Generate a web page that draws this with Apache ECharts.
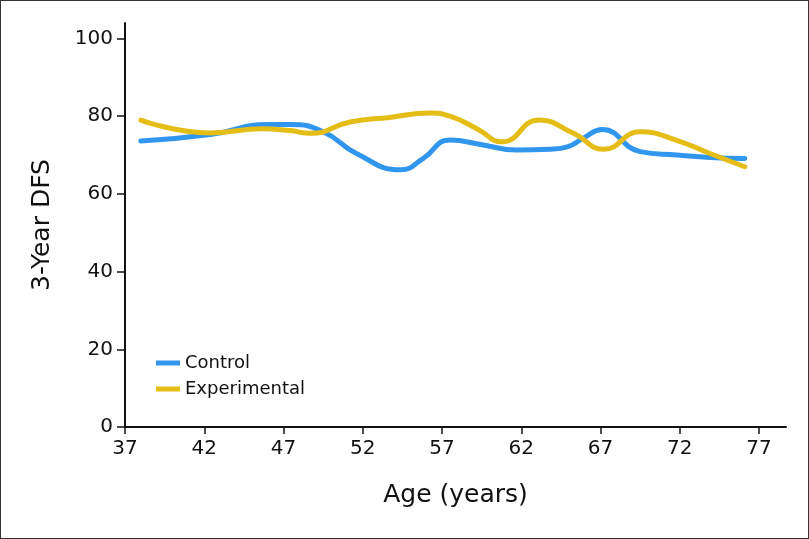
<!DOCTYPE html>
<html>
<head>
<meta charset="utf-8">
<script src="https://cdn.jsdelivr.net/npm/echarts@6/dist/echarts.min.js"></script>
<style>
  html, body { margin: 0; padding: 0; background: #fff; }
  #chart { width: 809px; height: 539px; box-sizing: border-box; border: 1px solid #333; }
</style>
</head>
<body>
<div id="chart"></div>
<script>
// data
var xTicks = [37, 42, 47, 52, 57, 62, 67, 72, 77];
var controlAge = [38, 42.4, 46.1, 47.4, 49.5, 51.6, 54.4, 55.8, 57.5, 59.6, 61.7, 63.8, 64.9, 65.9, 67.1, 69.5, 71.8, 73.9, 76.1];
var controlDFS = [73.6, 75.3, 77.9, 77.9, 76, 70.4, 66.2, 69.1, 73.9, 72.6, 71.3, 71.5, 72.1, 74.3, 76.6, 70.9, 70, 69.4, 69.1];
var expAge = [38, 42.4, 45.7, 47.4, 48.7, 51.2, 53.7, 56.2, 57.5, 59.2, 60.8, 63.1, 65.3, 67.2, 69.5, 71.8, 73.9, 76.1];
var expDFS = [79, 75.7, 76.8, 76.3, 75.6, 78.5, 79.7, 80.8, 80, 76.8, 73.4, 79, 75.6, 71.5, 76, 73.8, 70.4, 67];

function pairs(xs, ys) {
    return xs.map(function (x, i) { return [x, ys[i]]; });
}

var chart = echarts.init(document.getElementById('chart'));
var font = '"DejaVu Sans", sans-serif';

chart.setOption({
    animation: false,
    textStyle: { fontFamily: font },
    grid: { left: 124, right: 22, top: 22, bottom: 111, containLabel: false },
    legend: {
        orient: 'vertical',
        left: 150,
        top: 348,
        itemWidth: 24,
        itemHeight: 5,
        itemGap: 8,
        icon: 'rect',
        textStyle: { fontSize: 18, color: '#111', fontFamily: font },
        data: ['Control', 'Experimental']
    },
    xAxis: {
        type: 'value',
        min: 37,
        max: 78.7,
        name: 'Age (years)',
        nameLocation: 'middle',
        nameGap: 56,
        nameTextStyle: { fontSize: 25, color: '#111' },
        axisLine: { lineStyle: { color: '#111', width: 2 } },
        axisTick: { show: true, length: 7, lineStyle: { color: '#111', width: 1.5 }, customValues: xTicks },
        axisLabel: { fontSize: 20, color: '#111', margin: 12, customValues: xTicks },
        splitLine: { show: false }
    },
    yAxis: {
        type: 'value',
        min: 0,
        max: 104,
        interval: 20,
        name: '3-Year DFS',
        nameLocation: 'middle',
        nameGap: 70,
        nameTextStyle: { fontSize: 25, color: '#111' },
        axisLine: { show: true, lineStyle: { color: '#111', width: 2 } },
        axisTick: { show: true, length: 8, lineStyle: { color: '#111', width: 1.5 } },
        axisLabel: { fontSize: 20, color: '#111', margin: 12, showMaxLabel: false },
        splitLine: { show: false }
    },
    series: [
        {
            name: 'Control',
            type: 'line',
            smooth: 0.5,
            symbol: 'none',
            data: pairs(controlAge, controlDFS),
            lineStyle: { color: '#3096EE', width: 5, cap: 'round' },
            itemStyle: { color: '#3096EE' }
        },
        {
            name: 'Experimental',
            type: 'line',
            smooth: 0.5,
            symbol: 'none',
            data: pairs(expAge, expDFS),
            lineStyle: { color: '#E4BE16', width: 5, cap: 'round' },
            itemStyle: { color: '#E4BE16' }
        }
    ]
});
</script>
</body>
</html>
